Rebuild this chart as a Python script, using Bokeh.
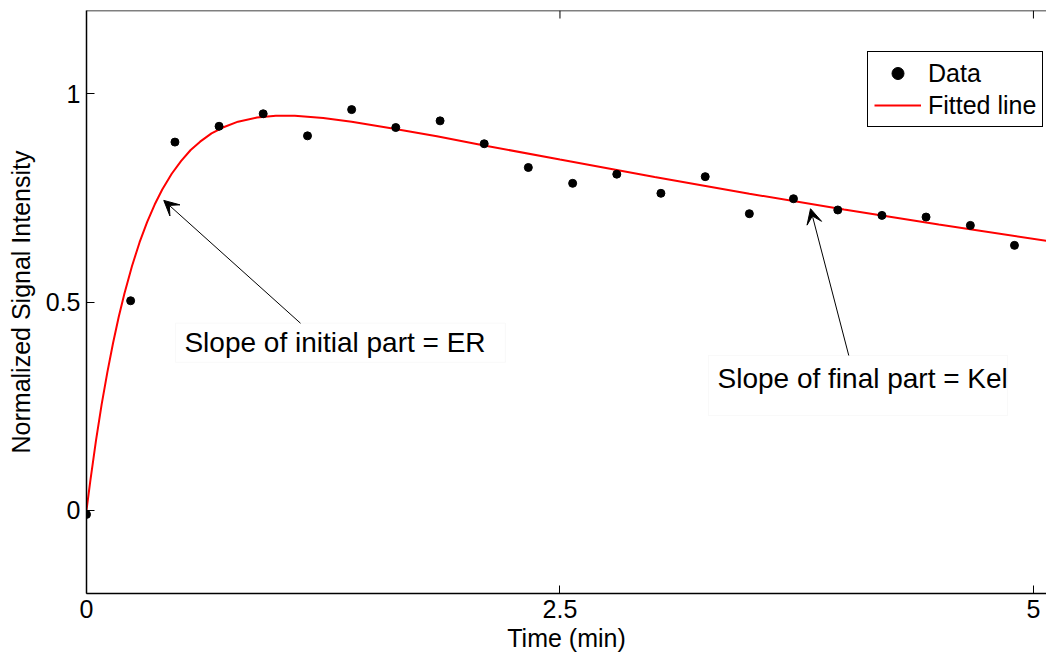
from bokeh.plotting import figure
from bokeh.models import (Range1d, FixedTicker, Legend, LegendItem, Span,
                          Label, Arrow, VeeHead, BoxAnnotation)
from bokeh.embed import file_html
from bokeh.resources import INLINE

# ---- data ----
time_data = [0, 0.233, 0.467, 0.7, 0.933, 1.167, 1.4, 1.633, 1.867, 2.1, 2.333,
             2.567, 2.8, 3.033, 3.267, 3.5, 3.733, 3.967, 4.2, 4.433, 4.667, 4.9]
signal_data = [-0.01, 0.503, 0.884, 0.922, 0.952, 0.899, 0.962, 0.919, 0.935, 0.880, 0.823,
               0.785, 0.807, 0.761, 0.801, 0.712, 0.748, 0.721, 0.708, 0.704, 0.684, 0.636]

fit_time = [0, 0.02, 0.05, 0.08, 0.11, 0.14, 0.17, 0.20, 0.24, 0.28, 0.32, 0.36, 0.40,
            0.45, 0.50, 0.55, 0.60, 0.66, 0.72, 0.80, 0.90, 1.00, 1.10, 1.25, 1.40,
            1.60, 1.85, 2.10, 2.50, 3.00, 3.50, 4.00, 4.50, 5.07]
fit_signal = [0, 0.070, 0.167, 0.254, 0.331, 0.401, 0.464, 0.520, 0.586, 0.643, 0.692, 0.734, 0.770,
              0.808, 0.839, 0.865, 0.885, 0.905, 0.919, 0.933, 0.943, 0.947, 0.947, 0.942, 0.933,
              0.918, 0.898, 0.876, 0.842, 0.800, 0.760, 0.722, 0.686, 0.647]

x_ticks = [0, 2.5, 5]
x_tick_labels = ["0", "2.5", "5"]
y_ticks = [0, 0.5, 1]
y_tick_labels = ["0", "0.5", "1"]

x_label = "Time (min)"
y_label = "Normalized Signal Intensity"
legend_labels = ["Data", "Fitted line"]
note_er = "Slope of initial part = ER"
note_kel = "Slope of final part = Kel"

FONT = "Liberation Sans"
X_MIN, X_MAX = 0, 5.069
Y_MIN, Y_MAX = -0.2, 1.2
FRAME_H = 583  # 657 - 10 (top) - 64 (bottom)

p = figure(width=1046, height=657, output_backend="svg", toolbar_location=None,
           x_range=Range1d(X_MIN, X_MAX), y_range=Range1d(Y_MIN, Y_MAX),
           min_border_left=86, min_border_right=0, min_border_top=10, min_border_bottom=64,
           background_fill_color="white", border_fill_color="white")
p.outline_line_color = None
p.grid.visible = False

for ax, ticks, labels in [(p.xaxis[0], x_ticks, x_tick_labels), (p.yaxis[0], y_ticks, y_tick_labels)]:
    ax.ticker = FixedTicker(ticks=ticks)
    ax.major_label_overrides = {t: l for t, l in zip(ticks, labels)}
    ax.axis_line_color = "black"
    ax.axis_line_width = 1.5
    ax.major_tick_in = 8
    ax.major_tick_out = 0
    ax.major_tick_line_color = "black"
    ax.minor_tick_line_color = None
    ax.major_label_text_font = FONT
    ax.major_label_text_font_size = "25px"
    ax.major_label_text_color = "black"
    ax.axis_label_text_font = FONT
    ax.axis_label_text_font_size = "25px"
    ax.axis_label_text_font_style = "normal"
    ax.axis_label_text_color = "black"

p.xaxis.axis_label = x_label
p.yaxis.axis_label = y_label
p.xaxis.major_label_standoff = 6
p.xaxis.axis_label_standoff = 3
p.yaxis.major_label_standoff = 6
p.yaxis.axis_label_standoff = 8

# top box edge with inward ticks (MATLAB "box on")
p.add_layout(Span(location=Y_MAX, dimension="width", line_color="black", line_width=1.5))
tick_len = 8 * (Y_MAX - Y_MIN) / FRAME_H
p.segment(x0=x_ticks, y0=[Y_MAX] * len(x_ticks), x1=x_ticks, y1=[Y_MAX - tick_len] * len(x_ticks),
          line_color="black", line_width=1)

r_line = p.line(fit_time, fit_signal, line_color="#ff0000", line_width=2)
r_pts = p.scatter(time_data, signal_data, size=8, marker="circle",
                  fill_color="black", line_color="black")

# annotation boxes and arrows
box1 = BoxAnnotation(left=0.47, right=2.212, top=0.449, bottom=0.355,
                     fill_color="white", fill_alpha=1, line_color="#ebebeb", line_width=1)
box2 = BoxAnnotation(left=3.284, right=4.863, top=0.3715, bottom=0.2274,
                     fill_color="white", fill_alpha=1, line_color="#ebebeb", line_width=1)
p.add_layout(box1)
p.add_layout(box2)

p.add_layout(Label(x=0.517, y=0.403, text=note_er, text_baseline="middle",
                   text_font=FONT, text_font_size="28px", text_color="black"))
p.add_layout(Label(x=3.332, y=0.316, text=note_kel, text_baseline="middle",
                   text_font=FONT, text_font_size="28px", text_color="black"))

p.add_layout(Arrow(end=VeeHead(size=15, fill_color="black", line_color="black", line_width=1),
                   x_start=1.13, y_start=0.449, x_end=0.408, y_end=0.744,
                   line_color="black", line_width=1))
p.add_layout(Arrow(end=VeeHead(size=15, fill_color="black", line_color="black", line_width=1),
                   x_start=4.025, y_start=0.3715, x_end=3.823, y_end=0.724,
                   line_color="black", line_width=1))

legend = Legend(items=[LegendItem(label=legend_labels[0], renderers=[r_pts]),
                       LegendItem(label=legend_labels[1], renderers=[r_line])],
                location=(781, 466), orientation="vertical",
                border_line_color="black", border_line_width=1.5, border_line_alpha=1,
                background_fill_color="white", background_fill_alpha=1,
                padding=6, spacing=2, margin=0,
                glyph_width=47, glyph_height=30, label_height=30, label_standoff=7,
                label_text_font=FONT, label_text_font_size="25px", label_text_color="black")
p.add_layout(legend)

open("out.html", "w").write(file_html(p, INLINE))
